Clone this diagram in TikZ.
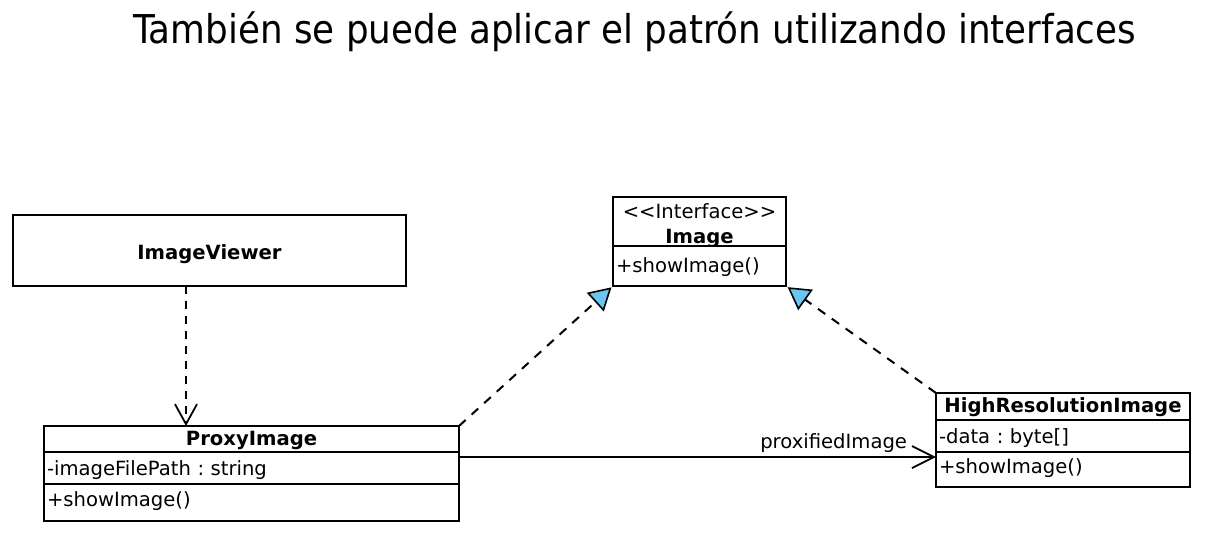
\documentclass[tikz,border=0pt]{standalone}
\usepackage{fontspec}
\setmainfont{DejaVu Sans}
\newfontfamily\titlefont{DejaVu Sans Condensed}
\usepackage{tikz}
\usetikzlibrary{arrows.meta,positioning}
\definecolor{realize-blue}{RGB}{108,197,240}
\frenchspacing
\tikzset{
  uml-box/.style={draw=black, fill=white, line width=2pt, outer sep=0pt, inner sep=3pt,
    font=\fontsize{19.6}{25}\selectfont},
  uml-head/.style={uml-box, font=\fontsize{19.6}{25}\selectfont\bfseries, align=center,
    text height=15pt, text depth=3pt, inner ysep=1pt},
  uml-part/.style={uml-box, align=left, anchor=north, text height=15pt, text depth=1pt, inner ysep=1pt},
  uml-text/.style={font=\fontsize{19.6}{25}\selectfont, inner sep=0pt, anchor=base},
  uml-dep/.style={line width=2pt, dash pattern=on 8pt off 7pt,
    -{Straight Barb[length=20pt, width=22pt, line width=1.8pt]}},
  uml-real/.style={line width=2pt, dash pattern=on 9pt off 8pt, shorten >=2pt,
    -{Triangle[length=22pt, width=25pt, fill=realize-blue, line width=1.6pt]}},
  uml-assoc/.style={line width=2pt, -{Straight Barb[length=22pt, width=22pt, line width=1.8pt]}}
}

\begin{document}
\begin{tikzpicture}[x=1pt, y=-1pt]
  \useasboundingbox[fill=white] (0,0) rectangle (1207,541);

  % Title
  \node[font=\titlefont\fontsize{39.7}{48}\selectfont, anchor=base] (title) at (635,43)
    {También se puede aplicar el patrón utilizando interfaces};

  % Client
  \node[uml-head, text height=17pt, text depth=0pt, minimum width=393, minimum height=71] (viewer) at (209.5,250.5) {ImageViewer};

  % Interface
  \node[uml-box, minimum width=173, minimum height=49] (iface) at (699.5,221.5) {};
  \node[uml-text] (iface-stereo) at ([yshift=-21pt]iface.north) {<\kern0pt<Interface>\kern0pt>};
  \node[uml-text, font=\fontsize{19.6}{25}\selectfont\bfseries] (iface-name) at ([yshift=-46pt]iface.north) {Image};
  \node[uml-part, text width=167, minimum height=40, text depth=3pt, below=0pt of iface] (iface-ops) {+showImage()};

  % Proxy
  \node[uml-head, minimum width=415, minimum height=26] (proxy) at (251.5,439) {ProxyImage};
  \node[uml-part, text width=409, minimum height=32, below=0pt of proxy] (proxy-attr) {-imageFilePath : string};
  \node[uml-part, text width=409, minimum height=37, text depth=8pt, below=0pt of proxy-attr] (proxy-ops) {+showImage()};

  % Real subject
  \node[uml-head, minimum width=254, minimum height=27] (hires) at (1063,406.5) {HighResolutionImage};
  \node[uml-part, text width=248, minimum height=32, below=0pt of hires] (hires-attr) {-data : byte[]};
  \node[uml-part, text width=248, minimum height=35, text depth=8pt, below=0pt of hires-attr] (hires-ops) {+showImage()};

  % Connectors
  \draw[uml-dep] ([xshift=-23.5pt]viewer.south) -- ([xshift=-23.5pt]viewer.south |- proxy.north);
  \draw[uml-real] (proxy.north east) -- (iface-ops.south west);
  \draw[uml-real] (hires.north west) -- (iface-ops.south east);
  \draw[uml-assoc] ([yshift=-5pt]proxy-attr.north east) -- ([yshift=-5pt]proxy-attr.north east -| hires-attr.west)
    node[pos=1, anchor=base east, xshift=-25pt, yshift=9pt, inner sep=3pt, font=\fontsize{19.6}{25}\selectfont] (assoc-label) {proxifiedImage};
\end{tikzpicture}
\end{document}
